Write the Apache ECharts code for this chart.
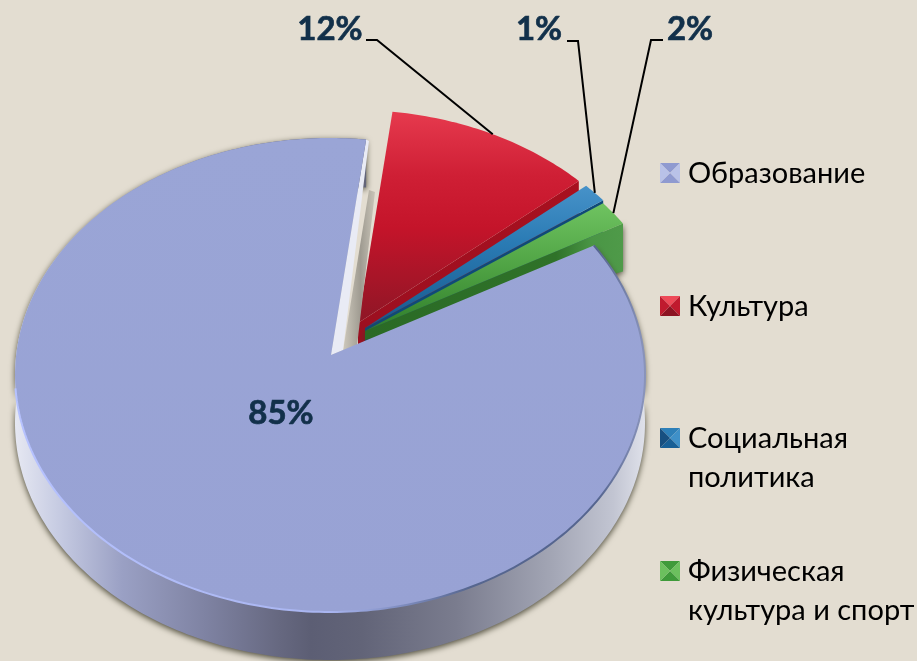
<!DOCTYPE html>
<html>
<head>
<meta charset="utf-8">
<style>
  html, body { margin: 0; padding: 0; background: #e3ddd1; }
  #chart { width: 917px; height: 661px; }
</style>
<script src="https://cdn.jsdelivr.net/npm/echarts@6/dist/echarts.min.js"></script>
</head>
<body>
<div id="chart"></div>
<script>
// chart values, shares, labels as printed
const categories = ['Образование', 'Культура', 'Социальная\nполитика', 'Физическая\nкультура и спорт']
const shares = [85, 11.8, 1.4, 1.8]
const shareLabels = ['85%', '12%', '1%', '2%']

// the pie sits in perspective: a ray from the apex hits a shifted ellipse
const START_ANGLE = -29
const RX = 315
const RY = 237
const DEPTH = 48
const FONT = 'Lato, Carlito, "Open Sans", sans-serif'
const LABEL_COLOR = '#12304a'

const sliceLayout = [
  { apex: [331, 355], center: [330, 375], apexDepth: 0, layer: 40 },
  { apex: [358, 323], center: [354, 347], apexDepth: 22, layer: 10 },
  { apex: [365, 328], center: [359, 350], apexDepth: 14, layer: 20 },
  { apex: [365, 331], center: [361, 355], apexDepth: 9, layer: 30 },
]
const sliceStyle = [
  { top: [[0, '#9aa5d6'], [1, '#98a2d4']], marker: ['#8f9ad0', '#b9c2e8', '#8f9ad0', '#b9c2e8'] },
  {
    top: [[0, '#e63a4e'], [0.3, '#cf1f35'], [0.55, '#c4142a'], [1, '#8e1626']],
    wall: [[0, '#9c0f20'], [1, '#a8101f']],
    marker: ['#ee4a58', '#c01a2e', '#8c1322', '#c01a2e'],
  },
  {
    top: [[0, '#4792c9'], [0.4, '#2a7bb4'], [1, '#17588c']],
    wall: [[0, '#0f4a78'], [1, '#0f4a78']],
    marker: ['#2d7fb8', '#3f90c8', '#185f96', '#174f80'],
  },
  {
    top: [[0, '#6fc361'], [0.5, '#4fa344'], [1, '#2f7d2a']],
    wall: [[0, '#2a6a25'], [0.74, '#2f7229'], [0.88, '#4a9645'], [1, '#4f9a49']],
    marker: ['#3f9a3a', '#6cc05e', '#3f9a3a', '#6cc05e'],
  },
]
const labelLayout = [
  { text: [281, 413] },
  { text: [330, 29], elbow: [[366, 40], [377, 40]] },
  { text: [539, 29], elbow: [[567, 41], [578, 41]] },
  { text: [690, 29], elbow: [[663, 40], [651, 40]] },
]
const LEGEND_X = 660
const LEGEND_SIZE = 20
const LEGEND_TEXT_X = 688
const LEGEND_LINE = 39
const legendRows = [173, 306, 438, 571]

function sliceAngles() {
  const total = shares.reduce((a, b) => a + b, 0)
  let cur = START_ANGLE
  return shares.map((v) => {
    const from = cur
    cur += (v / total) * 360
    return [from, cur]
  })
}
const angles = sliceAngles()

function rayPoint(layout, deg) {
  const t = (deg * Math.PI) / 180
  const dx = RX * Math.cos(t)
  const dy = RY * Math.sin(t)
  const ox = (layout.apex[0] - layout.center[0]) / RX
  const oy = (layout.apex[1] - layout.center[1]) / RY
  const ux = dx / RX
  const uy = dy / RY
  const a = ux * ux + uy * uy
  const b = 2 * (ox * ux + oy * uy)
  const c = ox * ox + oy * oy - 1
  const s = (-b + Math.sqrt(b * b - 4 * a * c)) / (2 * a)
  return [layout.apex[0] + s * dx, layout.apex[1] + s * dy]
}

function arcPoints(layout, from, to) {
  const n = Math.max(2, Math.ceil(to - from))
  const pts = []
  for (let i = 0; i <= n; i++) pts.push(rayPoint(layout, from + ((to - from) * i) / n))
  return pts
}

function vGrad(stops) {
  return new echarts.graphic.LinearGradient(0, 0, 0, 1, stops.map(([offset, color]) => ({ offset, color })))
}
function hGrad(stops) {
  return new echarts.graphic.LinearGradient(0, 0, 1, 0, stops.map(([offset, color]) => ({ offset, color })))
}
const down = (p, d) => [p[0], p[1] + d]
const SHADOW = { shadowBlur: 6, shadowColor: 'rgba(60,58,40,0.9)', shadowOffsetY: 2 }

function renderMainWall(layout, from, to, z) {
  const arc = arcPoints(layout, from, to)
  return [
    {
      type: 'polygon',
      z2: z,
      shape: { points: arc.concat(arc.map((p) => down(p, DEPTH)).reverse()) },
      style: {
        fill: hGrad([
          [0, '#e6e8f2'], [0.07, '#c6cbe2'], [0.17, '#9aa0c4'], [0.3, '#7f83a3'], [0.42, '#666880'],
          [0.47, '#5c5e74'], [0.55, '#626478'], [0.7, '#7a7c8e'], [0.85, '#a2a5b4'], [0.95, '#c2c5d2'], [1, '#dfe1ea'],
        ]),
        ...SHADOW,
      },
    },
    {
      // white edge of the main slice and the grey gap beside it
      type: 'polygon',
      z2: z,
      shape: { points: [[369, 190], [375, 192], [357, 346], [343, 351]] },
      style: { fill: hGrad([[0, '#cdc8bc'], [0.55, '#9f9b91'], [1, '#c9c4b8']]) },
    },
    {
      type: 'polygon',
      z2: z + 1,
      shape: { points: [layout.apex, rayPoint(layout, to), [369, 141], [343, 350]] },
      style: { fill: '#e9ebf5' },
    },
  ]
}

function renderSlices(params, api) {
  const i = params.dataIndex
  const layout = sliceLayout[i]
  const look = sliceStyle[i]
  const [from, to] = angles[i]
  const arc = arcPoints(layout, from, to)
  const children = []

  if (i === 0) {
    children.push(...renderMainWall(layout, from, to, layout.layer))
  } else {
    const end = arc[arc.length - 1]
    children.push({
      type: 'polygon',
      z2: layout.layer + 1,
      shape: { points: [layout.apex, end, down(end, DEPTH), down(layout.apex, layout.apexDepth)] },
      style: { fill: hGrad(look.wall), ...(i === 3 ? SHADOW : {}) },
    })
  }

  children.push({
    type: 'polygon',
    z2: layout.layer + 2,
    shape: { points: [layout.apex].concat(arc) },
    style: { fill: vGrad(look.top) },
  })

  if (i === 0) {
    children.push({
      type: 'polyline',
      z2: layout.layer + 3,
      shape: { points: arcPoints(layout, from, 172) },
      style: {
        fill: 'none',
        lineWidth: 2,
        stroke: hGrad([[0, '#b6c2ff'], [0.5, '#a9b5f0'], [0.72, '#56668f'], [0.92, '#55658f'], [1, '#8c96bd']]),
      },
    })
  }
  return { type: 'group', children }
}

function renderLabels(params, api) {
  const i = params.dataIndex
  const layout = sliceLayout[i]
  const place = labelLayout[i]
  const children = []
  if (place.elbow) {
    const mid = (angles[i][0] + angles[i][1]) / 2
    children.push({
      type: 'polyline',
      shape: { points: place.elbow.concat([rayPoint(layout, mid)]) },
      style: { fill: 'none', stroke: '#000', lineWidth: 2 },
    })
  }
  children.push({
    type: 'text',
    style: {
      x: place.text[0],
      y: place.text[1],
      text: shareLabels[i],
      fill: LABEL_COLOR,
      stroke: LABEL_COLOR,
      lineWidth: 0.7,
      font: 'bold 33px ' + FONT,
      align: 'center',
      verticalAlign: 'middle',
    },
  })
  return { type: 'group', children }
}

function renderLegend(params, api) {
  const i = params.dataIndex
  const y = legendRows[i]
  const s = LEGEND_SIZE
  const x0 = LEGEND_X
  const y0 = y - s / 2
  const mid = [x0 + s / 2, y]
  const corners = [[x0, y0], [x0 + s, y0], [x0 + s, y0 + s], [x0, y0 + s]]
  const children = corners.map((c, k) => ({
    type: 'polygon',
    shape: { points: [c, corners[(k + 1) % 4], mid] },
    style: { fill: sliceStyle[i].marker[k] },
  }))
  children.push({
    type: 'text',
    style: {
      x: LEGEND_TEXT_X,
      y: y - 19,
      text: categories[i],
      fill: '#000',
      font: '29px ' + FONT,
      lineHeight: LEGEND_LINE,
      align: 'left',
      verticalAlign: 'top',
    },
  })
  return { type: 'group', children }
}

const tableRows = categories.map((name, i) => ({ name: name, value: shares[i] }))

const chart = echarts.init(document.getElementById('chart'), null, { renderer: 'canvas' })
chart.setOption({
  backgroundColor: '#e3ddd1',
  animation: false,
  series: [
    { type: 'custom', coordinateSystem: 'none', renderItem: renderSlices, data: tableRows, z: 2, silent: true },
    { type: 'custom', coordinateSystem: 'none', renderItem: renderLabels, data: tableRows, z: 3, silent: true },
    { type: 'custom', coordinateSystem: 'none', renderItem: renderLegend, data: tableRows, z: 3, silent: true },
  ],
})
</script>
</body>
</html>
